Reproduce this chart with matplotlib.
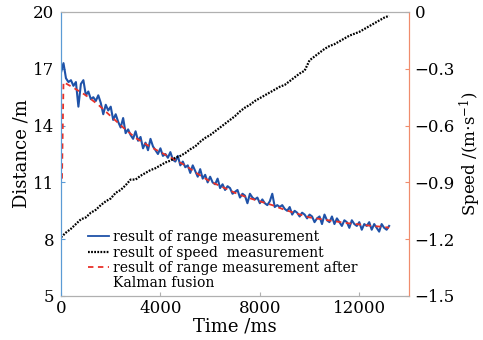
import numpy as np
import matplotlib
matplotlib.use("Agg")
import matplotlib.pyplot as plt
from matplotlib.lines import Line2D

plt.rcParams['font.family'] = ['DejaVu Serif']
plt.rcParams['mathtext.fontset'] = 'dejavuserif'

# range measurement, one sample every 100 ms
range_t = np.arange(0, 13201, 100)
range_d = [16.8, 17.3, 16.5, 16.3, 16.4, 16.1, 16.3, 15.0, 16.2, 16.4,
           15.6, 15.8, 15.4, 15.5, 15.3, 15.6, 15.2, 14.6, 15.1, 14.8,
           15.0, 14.3, 14.6, 14.2, 13.9, 14.4, 13.6, 13.8, 13.5, 13.3,
           13.7, 13.2, 13.4, 12.8, 13.1, 12.7, 13.3, 12.9, 12.7, 12.5,
           12.8, 12.4, 12.5, 12.3, 12.6, 12.2, 12.1, 12.4, 11.9, 12.1,
           11.8, 11.9, 11.5, 11.9, 11.6, 11.3, 11.7, 11.2, 11.4, 11.0,
           11.3, 11.0, 10.9, 11.2, 10.7, 10.9, 10.6, 10.8, 10.7, 10.4,
           10.5, 10.6, 10.2, 10.4, 10.3, 9.9, 10.4, 10.2, 10.1, 10.2,
           9.9, 10.1, 9.9, 9.8, 10.0, 10.4, 9.7, 9.8, 9.7, 9.8,
           9.6, 9.5, 9.7, 9.3, 9.5, 9.4, 9.2, 9.4, 9.3, 9.1,
           9.3, 9.2, 8.9, 9.1, 9.2, 8.8, 9.3, 9.0, 8.9, 9.2,
           8.8, 9.1, 8.9, 8.7, 9.0, 8.9, 8.6, 9.0, 8.8, 8.7,
           8.9, 8.5, 8.8, 8.7, 8.9, 8.5, 8.8, 8.6, 8.4, 8.8,
           8.6, 8.5, 8.7]

# Kalman fused range
fused_t = [40, 100, 500, 1000, 1500, 2000, 2500, 3000, 3500, 4000, 4500,
           5000, 5500, 6000, 6500, 7000, 7500, 8000, 8500, 9000, 9500,
           10000, 10500, 11000, 11500, 12000, 12500, 13000, 13200]
fused_d = [11.2, 16.3, 16.0, 15.6, 15.1, 14.5, 13.9, 13.35, 12.95, 12.6, 12.25,
           11.9, 11.45, 11.05, 10.75, 10.45, 10.2, 10.0, 9.8, 9.55, 9.35,
           9.15, 9.05, 8.95, 8.85, 8.78, 8.7, 8.65, 8.6]

# speed measurement, one sample every 200 ms
speed_t = np.arange(0, 13201, 200)
speed_v = [-1.19, -1.165, -1.145, -1.12, -1.095, -1.085, -1.06, -1.045, -1.02, -1.0,
           -0.985, -0.955, -0.94, -0.915, -0.885, -0.885, -0.865, -0.85, -0.835, -0.825,
           -0.81, -0.795, -0.785, -0.77, -0.76, -0.745, -0.725, -0.71, -0.685, -0.665,
           -0.65, -0.63, -0.61, -0.59, -0.57, -0.55, -0.525, -0.505, -0.49, -0.47,
           -0.455, -0.44, -0.425, -0.41, -0.395, -0.385, -0.365, -0.345, -0.325, -0.31,
           -0.255, -0.235, -0.215, -0.195, -0.18, -0.17, -0.155, -0.14, -0.125, -0.115,
           -0.105, -0.09, -0.075, -0.06, -0.045, -0.03, -0.02]

x_ticks = [0, 4000, 8000, 12000]
d_ticks = [5, 8, 11, 14, 17, 20]
v_ticks = [0, -0.3, -0.6, -0.9, -1.2, -1.5]
v_labels = ['0', '\u22120.3', '\u22120.6', '\u22120.9', '\u22121.2', '\u22121.5']

blue = '#1f52a8'
red = '#e8322a'
lblue = '#5b9bd5'
orange = '#f08c6c'
gray = '#b0b0b0'

fig = plt.figure(figsize=(4.83, 3.40), dpi=100)
ax = fig.add_axes([61/483, 1-296/340, 348/483, 284/340])
ax2 = ax.twinx()

ax.plot(range_t, range_d, color=blue, lw=1.5, zorder=2)
ax.plot(fused_t, fused_d, color=red, lw=1.3, ls=(0, (3, 2.5)), zorder=3)
ax2.plot(speed_t, speed_v, color='black', lw=1.6, ls=(0, (0.8, 0.6)))

ax.set_xlim(0, 14000)
ax.set_ylim(5, 20)
ax2.set_ylim(-1.5, 0)
ax.set_xticks(x_ticks)
ax.set_yticks(d_ticks)
ax2.set_yticks(v_ticks)
ax2.set_yticklabels(v_labels)

for a in (ax, ax2):
    a.spines['left'].set_color(lblue)
    a.spines['right'].set_color(orange)
    a.spines['top'].set_color(gray)
    a.spines['bottom'].set_color(gray)
ax.tick_params(axis='x', direction='in', length=3, color=gray, labelsize=12, pad=3)
ax.tick_params(axis='y', direction='in', length=3, color=lblue, labelsize=12, pad=5)
ax2.tick_params(axis='y', direction='in', length=3, color=orange, labelsize=12, pad=4)

ax.set_xlabel('Time /ms', fontsize=13, labelpad=0)
ax.set_ylabel('Distance /m', fontsize=13, labelpad=2)
ax2.set_ylabel(r'Speed /(m$\cdot$s$^{-1}$)', fontsize=12, labelpad=2)

handles = [Line2D([], [], color=blue, lw=1.3),
           Line2D([], [], color='black', lw=1.6, ls=(0, (0.8, 0.6))),
           Line2D([], [], color=red, lw=1.3, ls=(0, (3, 2.5))),
           Line2D([], [], color='none')]
labels = ['result of range measurement', 'result of speed  measurement',
          'result of range measurement after', 'Kalman fusion']
ax2.legend(handles, labels, loc='lower left', bbox_to_anchor=(0.07, 0.01),
           frameon=False, fontsize=10, handlelength=1.5, handletextpad=0.3,
           labelspacing=0.1, borderpad=0.2, borderaxespad=0)

fig.savefig('out.png', dpi=100)
